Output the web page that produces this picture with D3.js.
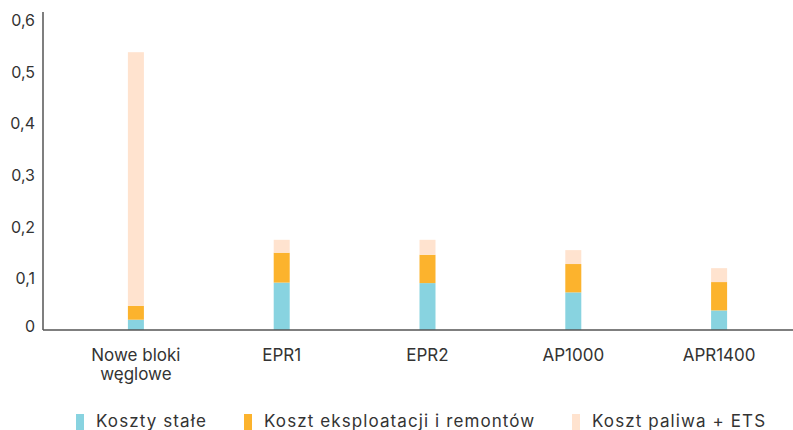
<!DOCTYPE html>
<html>
<head>
<meta charset="utf-8">
<script src="https://cdn.jsdelivr.net/npm/d3@7/dist/d3.min.js"></script>
<style>
  html, body { margin: 0; padding: 0; background: #fff; }
  svg { display: block; }
  text { font-family: Inter, "Open Sans", sans-serif; fill: #333; }
</style>
</head>
<body>
<svg id="chart" width="793" height="430"></svg>
<script>
const categories = [["Nowe bloki", "węglowe"], ["EPR1"], ["EPR2"], ["AP1000"], ["APR1400"]];
const fixedCosts = [0.020, 0.092, 0.091, 0.073, 0.038];
const opCosts = [0.027, 0.058, 0.055, 0.055, 0.055];
const fuelCosts = [0.492, 0.025, 0.029, 0.027, 0.027];
const seriesNames = ["Koszty stałe", "Koszt eksploatacji i remontów", "Koszt paliwa + ETS"];
const seriesColors = ["#88D3E0", "#FCB32D", "#FFE3CF"];
const yTicks = [0, 0.1, 0.2, 0.3, 0.4, 0.5, 0.6];

const svg = d3.select("#chart");
const keys = ["fixed", "op", "fuel"];
const rows = categories.map((c, i) => ({ cat: c.join(" "), fixed: fixedCosts[i], op: opCosts[i], fuel: fuelCosts[i] }));

const x = d3.scaleBand().domain(rows.map(r => r.cat)).range([63, 792]);
const y = d3.scaleLinear().domain([0, 0.617]).range([330, 12]);
const barW = 16;

const stack = d3.stack().keys(keys)(rows);

svg.append("g").selectAll("g").data(stack).join("g")
  .attr("fill", (d, i) => seriesColors[i])
  .selectAll("rect").data(d => d).join("rect")
  .attr("x", d => x(d.data.cat) + x.bandwidth() / 2 - barW / 2)
  .attr("width", barW)
  .attr("y", d => y(d[1]))
  .attr("height", d => y(d[0]) - y(d[1]));

// Y axis
const yAxis = d3.axisLeft(y).tickValues(yTicks).tickSize(0).tickPadding(8)
  .tickFormat(d => d === 0 ? "0" : d3.format(".1f")(d).replace(".", ","));
const gy = svg.append("g").attr("transform", "translate(43,0)").call(yAxis);
gy.select(".domain").attr("stroke", "#555").attr("stroke-width", 1.5).attr("d", `M0,${y(0)}V${y.range()[1]}`);
gy.selectAll("text").style("font-size", "16px").attr("fill", "#333").attr("dy", "0.32em");
gy.selectAll(".tick").filter(d => d === 0).select("text").attr("dy", "0.12em");

// X axis baseline
svg.append("line").attr("x1", 43).attr("x2", 793).attr("y1", y(0)).attr("y2", y(0))
  .attr("stroke", "#555").attr("stroke-width", 1.5);

// X labels
const xl = svg.append("g");
categories.forEach((c, i) => {
  const t = xl.append("text")
    .attr("x", x(rows[i].cat) + x.bandwidth() / 2)
    .attr("y", 361)
    .attr("text-anchor", "middle")
    .style("font-size", "17px");
  c.forEach((line, j) => {
    t.append("tspan").attr("x", x(rows[i].cat) + x.bandwidth() / 2)
      .attr("dy", j === 0 ? 0 : 19).text(line);
  });
});

// Legend
const legendX = [76, 244, 572];
const lg = svg.append("g");
seriesNames.forEach((n, i) => {
  lg.append("rect").attr("x", legendX[i]).attr("y", 414).attr("width", 8).attr("height", 16).attr("fill", seriesColors[i]);
  lg.append("text").attr("x", legendX[i] + 20).attr("y", 427)
    .style("font-size", "17px").style("letter-spacing", "1.1px").text(n);
});
</script>
</body>
</html>
